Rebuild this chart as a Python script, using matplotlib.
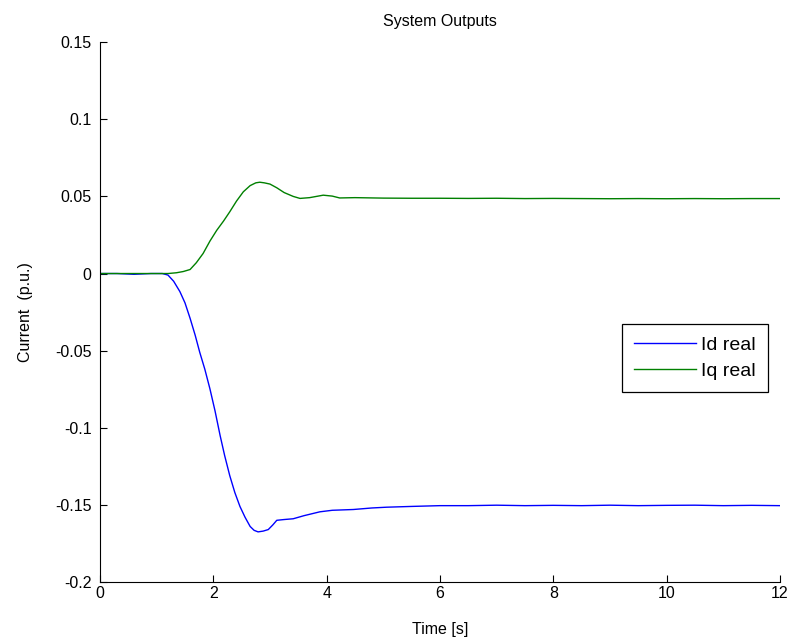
import matplotlib.pyplot as plt
import numpy as np

plt.rcParams["font.family"] = ["Liberation Sans", "DejaVu Sans"]

# step response of the d/q current loops
t_id = [0.0, 0.3, 0.6, 0.9, 1.1, 1.2, 1.3, 1.41, 1.5, 1.59, 1.68, 1.76, 1.85,
        1.94, 2.03, 2.12, 2.2, 2.29, 2.38, 2.47, 2.56, 2.65, 2.72, 2.79, 2.88,
        2.97, 3.05, 3.12, 3.25, 3.41, 3.6, 3.88, 4.1, 4.47, 4.8, 5.06, 5.5,
        6.0, 6.5, 7.0, 7.5, 8.0, 8.5, 9.0, 9.5, 10.0, 10.5, 11.0, 11.5, 12.0]
id_real = [0.0, 0.0, -0.0005, 0.0, 0.0, -0.001, -0.005, -0.0117, -0.019,
           -0.029, -0.040, -0.051, -0.062, -0.0747, -0.089, -0.105, -0.118,
           -0.131, -0.142, -0.151, -0.158, -0.164, -0.1665, -0.1675, -0.167,
           -0.166, -0.163, -0.160, -0.1595, -0.159, -0.157, -0.1545, -0.1535,
           -0.153, -0.152, -0.1515, -0.151, -0.1505, -0.1505, -0.1502,
           -0.1505, -0.1503, -0.1505, -0.1502, -0.1505, -0.1503, -0.1502,
           -0.1505, -0.1503, -0.1505]

t_iq = [0.0, 0.3, 0.6, 0.9, 1.2, 1.35, 1.47, 1.59, 1.7, 1.82, 1.94, 2.06,
        2.18, 2.29, 2.41, 2.53, 2.65, 2.75, 2.82, 2.9, 3.0, 3.12, 3.25, 3.41,
        3.53, 3.7, 3.94, 4.1, 4.23, 4.5, 5.0, 5.5, 6.0, 6.5, 7.0, 7.5, 8.0,
        8.5, 9.0, 9.5, 10.0, 10.5, 11.0, 11.5, 12.0]
iq_real = [0.0, 0.0, 0.0, 0.0, 0.0, 0.0005, 0.0013, 0.0026, 0.007, 0.013,
           0.021, 0.028, 0.034, 0.040, 0.047, 0.053, 0.057, 0.0588, 0.0592,
           0.0588, 0.058, 0.0556, 0.0525, 0.050, 0.0487, 0.0492, 0.0508,
           0.0502, 0.049, 0.0492, 0.0489, 0.0488, 0.0488, 0.0487, 0.0488,
           0.0486, 0.0487, 0.0486, 0.0485, 0.0486, 0.0485, 0.0486, 0.0485,
           0.0486, 0.0486]

x_ticks = [0, 2, 4, 6, 8, 10, 12]
y_ticks = [-0.2, -0.15, -0.1, -0.05, 0, 0.05, 0.1, 0.15]
y_labels = ["-0.2", "-0.15", "-0.1", "-0.05", "0", "0.05", "0.1", "0.15"]

fs = 11.5

fig = plt.figure(figsize=(7.91, 6.39), dpi=100)
ax = fig.add_axes([0.1264, 0.0892, 0.8596, 0.8448])

ax.plot(t_id, id_real, color=(0, 0, 1), lw=1.0, label="Id real")
ax.plot(t_iq, iq_real, color=(0, 0.5, 0), lw=1.0, label="Iq real")

ax.set_xlim(0, 12)
ax.set_ylim(-0.2, 0.15)
ax.set_xticks(x_ticks)
ax.set_yticks(y_ticks)
ax.set_yticklabels(y_labels)
ax.tick_params(direction="in", length=5, labelsize=fs, width=0.8,
               colors="black")
ax.tick_params(axis="x", pad=3)
ax.tick_params(axis="y", pad=6)
ax.spines["top"].set_visible(False)
ax.spines["right"].set_visible(False)
for s in ("left", "bottom"):
    ax.spines[s].set_linewidth(0.8)

ax.set_title("System Outputs", fontsize=fs, pad=12)
ax.set_xlabel("Time [s]", fontsize=fs, labelpad=15)
ax.set_ylabel("Current  (p.u.)", fontsize=fs, labelpad=16)

leg = ax.legend(loc="upper left", bbox_to_anchor=(622 / 791, 1 - 324 / 639),
                bbox_transform=fig.transFigure, fontsize=14, fancybox=False,
                framealpha=1, edgecolor="black", handlelength=3.2,
                borderpad=0.62, labelspacing=0.45, handletextpad=0.25,
                borderaxespad=0)
leg.get_frame().set_linewidth(0.9)

fig.savefig("out.png", dpi=100)
